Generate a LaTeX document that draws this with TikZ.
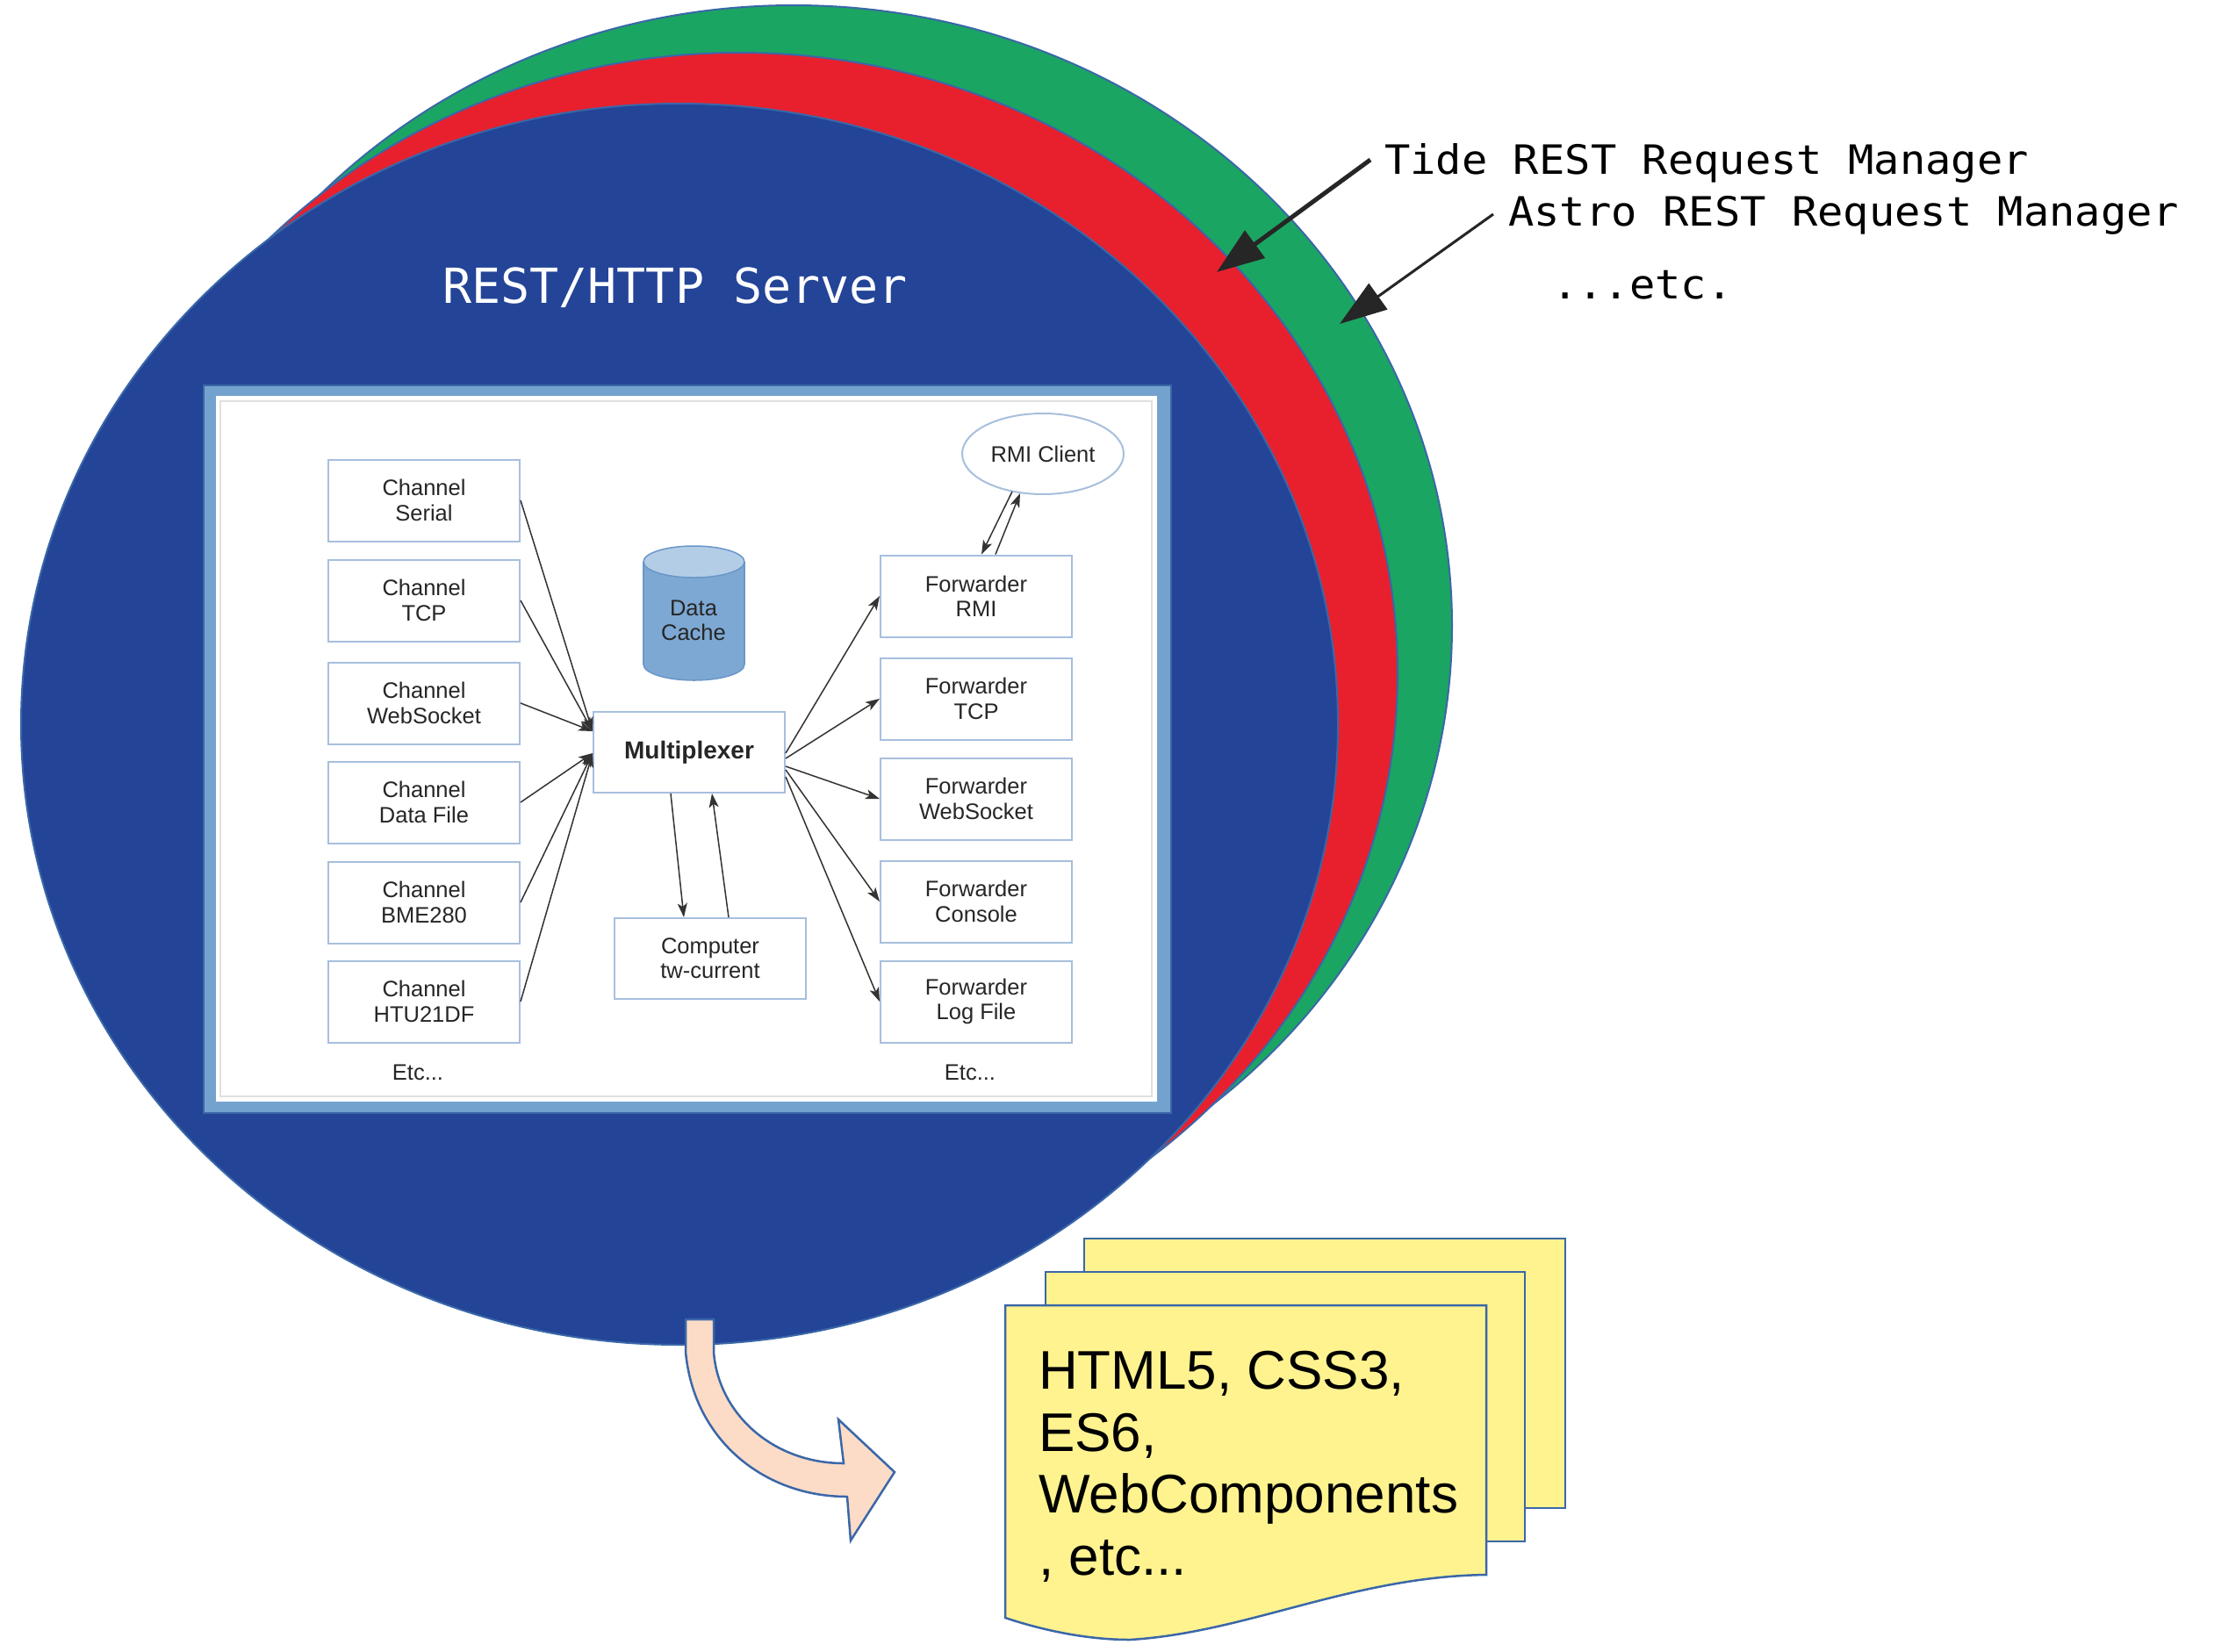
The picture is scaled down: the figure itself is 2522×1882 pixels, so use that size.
\documentclass[tikz,border=0pt]{standalone}
\usepackage{fontspec}
\setmainfont{Liberation Sans}
\newfontfamily\monof{DejaVu Sans Mono}
\newfontfamily\monowide[FakeStretch=1.06]{DejaVu Sans Mono}
\usetikzlibrary{arrows.meta,calc,shapes.geometric}
\definecolor{bblue}{HTML}{234497}
\definecolor{rred}{HTML}{E8202E}
\definecolor{ggreen}{HTML}{1BA562}
\definecolor{ellborder}{HTML}{3A67A8}
\definecolor{framelight}{HTML}{74A2CE}
\definecolor{boxborder}{HTML}{A7BFDD}
\definecolor{cylbody}{HTML}{7DA8D3}
\definecolor{cyltop}{HTML}{B4CDE6}
\definecolor{cylline}{HTML}{6A97C8}
\definecolor{noteyellow}{HTML}{FFF38F}
\definecolor{peach}{HTML}{FCDCC7}
\definecolor{conn}{HTML}{333333}
\begin{document}
\begin{tikzpicture}[x=1pt,y=-1pt,
  ell/.style={line width=2pt, draw=ellborder},
  compbox/.style={draw=boxborder, line width=2pt, fill=white, minimum width=218pt,
    minimum height=93pt, align=center, inner sep=0pt, text=black!85,
    font=\fontsize{25.5}{28.4}\selectfont},
  smalltxt/.style={inner sep=0pt, text=black!85, align=center, font=\fontsize{25.5}{28.4}\selectfont},
  conarrow/.style={draw=conn, line width=1.5pt, -{Stealth[length=16pt,width=11pt,inset=4pt]}},
  callout/.style={draw=black!85, line cap=butt},
  monolabel/.style={anchor=base west, inner sep=0pt, font=\monowide\fontsize{46}{50}\selectfont},
  note/.style={draw=ellborder, line width=2.5pt, fill=noteyellow}
]
\useasboundingbox (0,0) rectangle (2522,1882);

% stacked ellipses
\draw[ell, fill=ggreen] (904,713) ellipse [x radius=750pt, y radius=707pt];
\draw[ell, fill=rred]   (842,767) ellipse [x radius=750pt, y radius=707pt];
\draw[ell, fill=bblue]  (774,825) ellipse [x radius=750pt, y radius=707pt];

\node[anchor=base west, inner sep=0pt, text=white, font=\monof\fontsize{55}{60}\selectfont] (srv) at (504,345) {REST/HTTP Server};

% frame of embedded diagram
\draw[line width=1.5pt, draw=ellborder, fill=framelight] (232,439) rectangle (1334,1268);
\fill[white] (246,451) rectangle (1318,1255);
\draw[line width=2pt, draw=black!12] (251,457) rectangle (1312,1249);

% channels
\node[compbox] (cser) at (483,570)  {Channel\\Serial};
\node[compbox] (ctcp) at (483,684)  {Channel\\TCP};
\node[compbox] (cws)  at (483,801)  {Channel\\WebSocket};
\node[compbox] (cdf)  at (483,914)  {Channel\\Data File};
\node[compbox] (cbme) at (483,1028) {Channel\\BME280};
\node[compbox] (chtu) at (483,1141) {Channel\\HTU21DF};
\node[smalltxt] (etcl) at (476,1222) {Etc...};

% multiplexer and computer
\node[compbox, minimum height=92pt, font=\bfseries\fontsize{28}{32}\selectfont] (mux) at (785,857) {Multiplexer};
\node[compbox, minimum height=92pt] (comp) at (809,1092) {Computer\\tw-current};

% data cache cylinder
\draw[line width=1.5pt, draw=cylline, fill=cylbody] (790.5,757) ellipse [x radius=57.5pt, y radius=18pt];
\fill[cylbody] (733,640) rectangle (848,757);
\draw[line width=1.5pt, draw=cylline] (733,640) -- (733,757);
\draw[line width=1.5pt, draw=cylline] (848,640) -- (848,757);
\draw[line width=1.5pt, draw=cylline, fill=cyltop] (790.5,640) ellipse [x radius=57.5pt, y radius=18pt];
\node[smalltxt] (cache) at (790,707) {Data\\Cache};

% forwarders
\node[compbox] (frmi) at (1112,679)  {Forwarder\\RMI};
\node[compbox] (ftcp) at (1112,796)  {Forwarder\\TCP};
\node[compbox] (fws)  at (1112,910)  {Forwarder\\WebSocket};
\node[compbox] (fcon) at (1112,1027) {Forwarder\\Console};
\node[compbox] (flog) at (1112,1141) {Forwarder\\Log File};
\node[smalltxt] (etcr) at (1105,1222) {Etc...};

\node[draw=boxborder, line width=2pt, fill=white, ellipse, minimum width=184pt, minimum height=92pt,
  inner sep=0pt, text=black!85, font=\fontsize{25.5}{28.4}\selectfont] (rmic) at (1188,517) {RMI Client};

% connectors into multiplexer
\coordinate (minA) at ($(mux.north west)+(0,23)$);
\coordinate (minB) at ($(mux.west)+(0,1)$);
\draw[conarrow] (cser.east) -- (minA);
\draw[conarrow] (ctcp.east) -- (minA);
\draw[conarrow] (cws.east)  -- (minA);
\draw[conarrow] (cdf.east)  -- (minB);
\draw[conarrow] (cbme.east) -- (minB);
\draw[conarrow] (chtu.east) -- (minB);

% connectors out of multiplexer
\draw[conarrow] ($(mux.east)+(0,1)$)  -- (frmi.west);
\draw[conarrow] ($(mux.east)+(0,7)$)  -- (ftcp.west);
\draw[conarrow] ($(mux.east)+(0,16)$) -- (fws.west);
\draw[conarrow] ($(mux.east)+(0,20)$) -- (fcon.west);
\draw[conarrow] ($(mux.east)+(0,28)$) -- (flog.west);

% multiplexer <-> computer
\draw[conarrow] ($(mux.south)+(-21,0)$) -- ($(comp.north)+(-30,0)$);
\draw[conarrow] ($(comp.north)+(21,0)$) -- ($(mux.south)+(26,0)$);

% RMI client <-> forwarder RMI
\draw[conarrow] ($(rmic.center)+(-35,43)$) -- ($(frmi.north)+(6,0)$);
\draw[conarrow] ($(frmi.north)+(22,0)$) -- ($(rmic.center)+(-26,45)$);

% labels on the right
\node[monolabel] (tide)  at (1577,198) {Tide REST Request Manager};
\node[monolabel] (astro) at (1718,257) {Astro REST Request Manager};
\node[monolabel] (etcm)  at (1768,340) {...etc.};
\coordinate (tideS) at (1561,182);
\coordinate (tideT) at (1386,310);
\coordinate (astroS) at (1701,244);
\coordinate (astroT) at (1526,369);
\draw[callout, line width=5pt, -{Triangle[length=54pt,width=38pt]}] (tideS) -- (tideT);
\draw[callout, line width=3pt, -{Triangle[length=54pt,width=36pt]}] (astroS) -- (astroT);

% stacked notes
\draw[note] (1235,1411) rectangle (1783,1718);
\draw[note] (1191,1449) rectangle (1737,1756);
\draw[note] (1145,1487) -- (1693,1487) -- (1693,1794)
  .. controls (1540,1796) and (1420,1860) .. (1287,1868)
  .. controls (1240,1868) and (1190,1858) .. (1145,1843) -- cycle;
\node[anchor=north west, inner sep=0pt, align=left, text=black,
  font=\fontsize{62}{70.7}\selectfont] (web) at (1183,1539)
  {HTML5, CSS3,\\ES6,\\WebComponents\\, etc...};

% curved arrow
\draw[line width=2.5pt, draw=ellborder, fill=peach, line join=miter]
  (781,1503) -- (813,1503) -- (813,1540)
  .. controls (818,1610) and (880,1667) .. (961,1667)
  -- (955,1617) -- (1019,1677) -- (969,1755) -- (965,1705)
  .. controls (870,1705) and (790,1640) .. (781,1540) -- cycle;
\end{tikzpicture}
\end{document}
